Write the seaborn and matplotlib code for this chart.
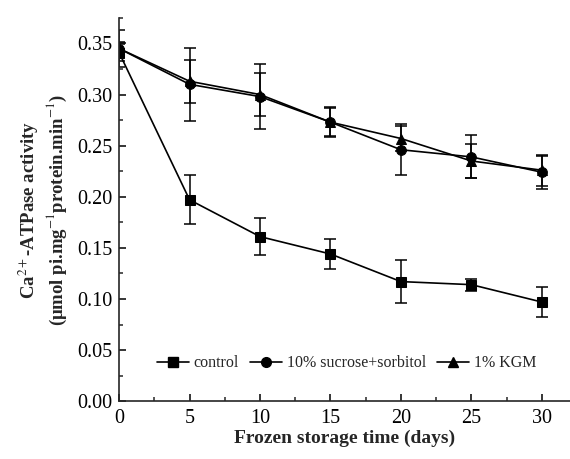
import numpy as np
import pandas as pd
import matplotlib
matplotlib.use("Agg")
import matplotlib.pyplot as plt
from matplotlib.lines import Line2D
import seaborn as sns

# Data
days = [0, 5, 10, 15, 20, 25, 30]
control = [0.341, 0.197, 0.161, 0.144, 0.117, 0.114, 0.097]
control_err = [0.008, 0.024, 0.018, 0.015, 0.021, 0.006, 0.015]
sucrose = [0.345, 0.310, 0.298, 0.273, 0.246, 0.239, 0.224]
sucrose_err = [0.006, 0.036, 0.032, 0.015, 0.025, 0.021, 0.016]
kgm = [0.345, 0.313, 0.300, 0.273, 0.257, 0.235, 0.226]
kgm_err = [0.018, 0.021, 0.021, 0.014, 0.012, 0.017, 0.015]

series = ["control", "10% sucrose+sorbitol", "1% KGM"]
markers = {"control": "s", "10% sucrose+sorbitol": "o", "1% KGM": "^"}

df = pd.DataFrame({
    "day": days * 3,
    "value": control + sucrose + kgm,
    "err": control_err + sucrose_err + kgm_err,
    "group": [s for s in series for _ in days],
})

sns.set_theme(style="ticks")
plt.rcParams.update({
    "font.family": ["Liberation Serif", "DejaVu Serif"],
    "mathtext.fontset": "stix",
    "xtick.direction": "in", "ytick.direction": "in",
    "axes.linewidth": 1.2,
    "axes.spines.top": False, "axes.spines.right": False,
})

fig = plt.figure(figsize=(5.7, 4.59), dpi=100)
ax = fig.add_axes([0.209, 0.126, 0.791, 0.835])

sns.lineplot(data=df, x="day", y="value", hue="group", style="group",
             markers=markers, dashes=False, palette=["black"] * 3,
             markersize=7, linewidth=1.2, markeredgecolor="black",
             legend=False, ax=ax)

for g in series:
    sub = df[df["group"] == g]
    ax.errorbar(sub["day"], sub["value"], yerr=sub["err"], fmt="none",
                ecolor="black", elinewidth=1.1, capsize=4, capthick=1.1)

ax.set_xlim(0, 32)
ax.set_ylim(0, 0.375)
ax.set_xticks(np.arange(0, 31, 5))
ax.set_xticks(np.arange(0, 32, 2.5), minor=True)
ax.set_yticks(np.arange(0, 0.36, 0.05))
ax.set_yticks(np.arange(0, 0.376, 0.025), minor=True)
ax.yaxis.set_major_formatter(matplotlib.ticker.FormatStrFormatter("%.2f"))
ax.tick_params(which="major", length=5, width=1.1, labelsize=14.5, colors="black")
ax.tick_params(which="minor", length=3, width=1.1)
ax.tick_params(axis="x", pad=6)
ax.tick_params(axis="y", pad=5)

ax.set_xlabel("Frozen storage time (days)", fontsize=14, fontweight="bold",
              labelpad=1)
ax.set_ylabel("Ca$^{2+}$-ATPase activity\n"
              "(μmol pi.mg$^{-1}$protein.min$^{-1}$)",
              fontsize=13.5, fontweight="bold", labelpad=6)

handles = [Line2D([], [], color="black", marker=markers[s], markersize=7,
                  linewidth=1.2) for s in series]
ax.legend(handles, series, loc="lower center", bbox_to_anchor=(0.505, 0.04),
          ncol=3, frameon=False, fontsize=11.5, handlelength=2.0,
          handletextpad=0.3, columnspacing=0.7)

fig.savefig("out.png", dpi=100, facecolor="white")
